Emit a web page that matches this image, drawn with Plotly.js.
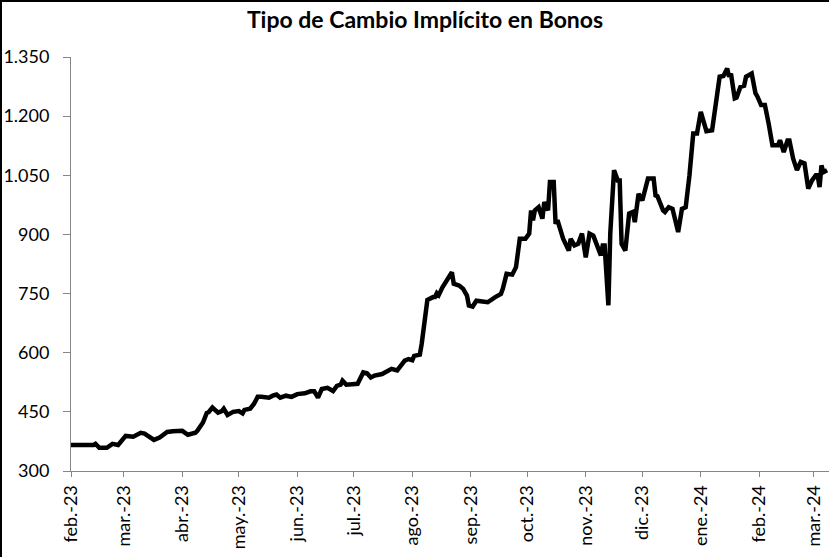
<!DOCTYPE html>
<html>
<head>
<meta charset="utf-8">
<script src="https://cdn.plot.ly/plotly-3.0.1.min.js"></script>
<style>
  html, body { margin: 0; padding: 0; background: #fff; }
  #wrap { position: relative; width: 829px; height: 557px; }
  #chart { width: 829px; height: 557px; }
  #frame { position: absolute; left: 0; top: 0; width: 829px; height: 557px;
           border-top: 2px solid #000; border-left: 2px solid #000;
           box-sizing: border-box; pointer-events: none; }
</style>
</head>
<body>
<div id="wrap"><div id="chart"></div><div id="frame"></div></div>
<script>
const chartTitle = "Tipo de Cambio Implícito en Bonos";

const dates = [
  '2023-02-01','2023-02-06','2023-02-13','2023-02-14','2023-02-16','2023-02-20','2023-02-23','2023-02-26',
  '2023-03-02','2023-03-06','2023-03-10','2023-03-12','2023-03-17','2023-03-20','2023-03-24','2023-03-27','2023-03-31',
  '2023-04-01','2023-04-04','2023-04-08','2023-04-09','2023-04-12','2023-04-14','2023-04-15','2023-04-17','2023-04-20','2023-04-22','2023-04-23','2023-04-25','2023-04-28',
  '2023-05-01','2023-05-03','2023-05-04','2023-05-07','2023-05-09','2023-05-11','2023-05-13','2023-05-17','2023-05-19','2023-05-21','2023-05-23','2023-05-26','2023-05-29',
  '2023-06-01','2023-06-05','2023-06-08','2023-06-10','2023-06-12','2023-06-14','2023-06-17','2023-06-20','2023-06-22','2023-06-24','2023-06-25','2023-06-27',
  '2023-07-01','2023-07-03','2023-07-06','2023-07-08','2023-07-10','2023-07-12','2023-07-16','2023-07-19','2023-07-21','2023-07-24','2023-07-26','2023-07-28','2023-07-30',
  '2023-08-01','2023-08-02','2023-08-05','2023-08-06','2023-08-08','2023-08-09','2023-08-12','2023-08-13','2023-08-14','2023-08-15','2023-08-17','2023-08-18','2023-08-20','2023-08-22','2023-08-23','2023-08-26','2023-08-28','2023-08-30','2023-08-31',
  '2023-09-02','2023-09-04','2023-09-08','2023-09-10','2023-09-14','2023-09-17','2023-09-18','2023-09-20','2023-09-23','2023-09-25','2023-09-27','2023-09-30',
  '2023-10-02','2023-10-03','2023-10-04','2023-10-05','2023-10-07','2023-10-09','2023-10-10','2023-10-12','2023-10-13','2023-10-15','2023-10-16','2023-10-17','2023-10-20','2023-10-21','2023-10-23','2023-10-24','2023-10-26','2023-10-28','2023-10-30',
  '2023-11-01','2023-11-03','2023-11-05','2023-11-07','2023-11-09','2023-11-10','2023-11-11','2023-11-13','2023-11-14','2023-11-16','2023-11-18','2023-11-19','2023-11-20','2023-11-22','2023-11-24','2023-11-26','2023-11-27','2023-11-29',
  '2023-12-01','2023-12-04','2023-12-07','2023-12-08','2023-12-09','2023-12-12','2023-12-13','2023-12-15','2023-12-17','2023-12-20','2023-12-22','2023-12-24','2023-12-26','2023-12-28','2023-12-30',
  '2024-01-01','2024-01-03','2024-01-04','2024-01-07','2024-01-09','2024-01-10','2024-01-11','2024-01-13','2024-01-15','2024-01-16','2024-01-17','2024-01-19','2024-01-20','2024-01-22','2024-01-24','2024-01-25','2024-01-28','2024-01-30','2024-01-31',
  '2024-02-02','2024-02-04','2024-02-06','2024-02-08','2024-02-11','2024-02-12','2024-02-14','2024-02-16','2024-02-17','2024-02-19','2024-02-21','2024-02-23','2024-02-25','2024-02-27','2024-02-29',
  '2024-03-02','2024-03-03','2024-03-04','2024-03-05','2024-03-06','2024-03-08'
];

const values = [
  366,366,366,369,359,359,369,366,
  389,387,397,395,379,385,399,401,404,
  402,392,397,402,423,447,449,461,448,452,458,442,450,
  452,446,455,458,470,488,488,486,491,494,486,491,488,
  495,497,502,502,486,508,511,503,516,519,529,519,
  519,521,550,548,537,542,546,552,559,555,567,580,584,
  581,592,595,623,707,734,741,741,751,746,766,773,787,804,775,770,762,745,720,
  717,732,730,728,741,749,762,800,798,817,889,889,
  902,961,936,961,969,940,982,961,1033,1033,927,936,889,880,859,889,872,876,902,
  842,902,897,868,847,872,872,720,902,1063,1037,1037,876,859,953,957,931,1003,
  986,1042,1042,999,997,961,957,969,965,906,965,969,1050,1156,1156,
  1211,1177,1162,1164,1228,1274,1300,1302,1321,1300,1308,1245,1247,1274,1277,1300,1308,1258,1250,
  1228,1228,1181,1126,1126,1139,1109,1138,1138,1092,1063,1084,1080,1016,1037,
  1050,1050,1020,1075,1058,1063
];

const monthTicks = ['2023-02-01','2023-03-01','2023-04-01','2023-05-01','2023-06-01','2023-07-01','2023-08-01',
  '2023-09-01','2023-10-01','2023-11-01','2023-12-01','2024-01-01','2024-02-01','2024-03-01'];
const monthLabels = ['feb.-23','mar.-23','abr.-23','may.-23','jun.-23','jul.-23','ago.-23',
  'sep.-23','oct.-23','nov.-23','dic.-23','ene.-24','feb.-24','mar.-24'];

const xRange = ['2023-02-01','2024-03-09'];
const yRange = [300, 1350];
const yStep = 150;

const axisColor = '#868686';

Plotly.newPlot('chart', [{
  type: 'scatter',
  mode: 'lines',
  x: dates,
  y: values,
  line: { color: '#000000', width: 4.5 },
  hoverinfo: 'x+y'
}], {
  width: 829,
  height: 557,
  margin: { l: 71, r: 0, t: 57, b: 86 },
  paper_bgcolor: '#ffffff',
  plot_bgcolor: '#ffffff',
  separators: ',.',
  showlegend: false,
  font: { family: 'Lato, "Open Sans", sans-serif', color: '#000000', size: 18 },
  title: {
    text: '<b>' + chartTitle + '</b>',
    font: { family: 'Lato, "Open Sans", sans-serif', size: 23, color: '#000000' },
    xref: 'container', yref: 'container',
    x: 0.5127, xanchor: 'center',
    y: 0.964, yanchor: 'middle'
  },
  xaxis: {
    type: 'date',
    range: xRange,
    tickmode: 'array',
    tickvals: monthTicks,
    ticktext: monthLabels,
    tickangle: -90,
    ticks: 'outside',
    ticklen: 5,
    tickcolor: axisColor,
    showline: true,
    linecolor: axisColor,
    linewidth: 1,
    showgrid: false,
    zeroline: false,
    tickfont: { family: 'Lato, sans-serif', size: 18, color: '#000000' },
    ticklabelstandoff: 1,
    fixedrange: true
  },
  yaxis: {
    range: yRange,
    tick0: yRange[0],
    dtick: yStep,
    tickformat: ',d',
    ticks: 'outside',
    ticklen: 7,
    tickcolor: axisColor,
    showline: true,
    linecolor: axisColor,
    linewidth: 1,
    showgrid: false,
    zeroline: false,
    tickfont: { family: 'Lato, sans-serif', size: 18, color: '#000000' },
    ticklabelstandoff: 10,
    fixedrange: true
  }
}, { displayModeBar: false, staticPlot: true });
</script>
</body>
</html>
